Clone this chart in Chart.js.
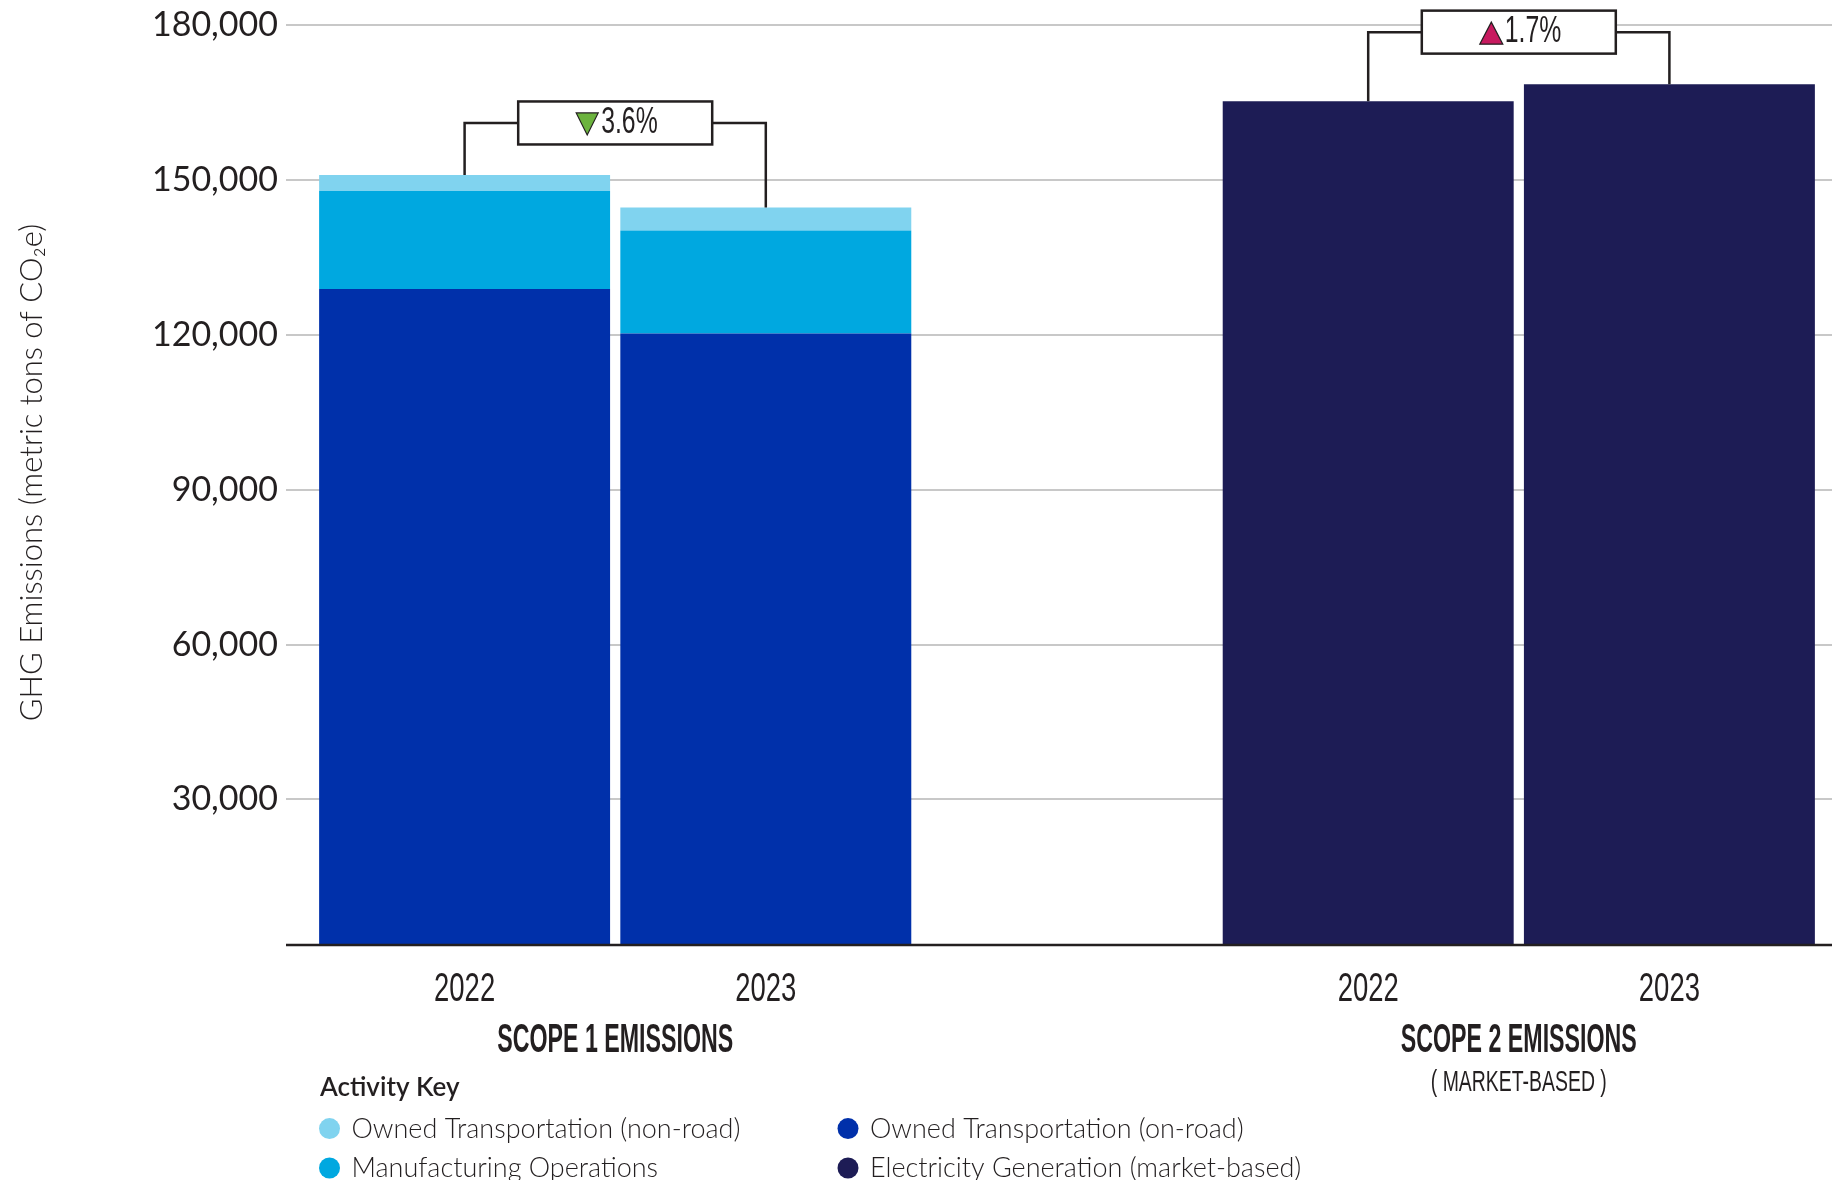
<!DOCTYPE html>
<html>
<head>
    <meta charset="UTF-8">
    <title>GHG Emissions</title>
    <script src="https://cdn.jsdelivr.net/npm/chart.js"></script>
    <style>
        body { margin: 0; background: #fff; }
        #wrap { width: 1832px; height: 1180px; position: relative; }
    </style>
</head>
<body>
    <div id="wrap"><canvas id="emissionsChart"></canvas></div>
    <script>
        // chart data
        var yearLabels = ['2022', '2023', '', '2022', '2023'];
        var groupNames = ['SCOPE 1 EMISSIONS', 'SCOPE 2 EMISSIONS'];
        var groupNotes = ['', '( MARKET-BASED )'];
        var groupMembers = [[0, 1], [3, 4]];
        var changeLabels = ['3.6%', '1.7%'];
        var changeDirections = ['down', 'up'];
        var yTicks = [30000, 60000, 90000, 120000, 150000, 180000];

        var seriesNames = ['Owned Transportation (on-road)', 'Manufacturing Operations',
                           'Owned Transportation (non-road)', 'Electricity Generation (market-based)'];
        var onRoad = [128900, 120300, null, null, null];
        var manufacturing = [19000, 19950, null, null, null];
        var nonRoad = [3100, 4460, null, null, null];
        var electricity = [null, null, null, 165300, 168600];

        var seriesColors = ['#0030aa', '#00a8e0', '#80d3ef', '#1d1c55'];
        var legendOrder = [2, 0, 1, 3];

        var ink = '#231f20';

        // pick a condensed face for the headline-style labels
        function hasFont(name) {
            var c = document.createElement('canvas').getContext('2d');
            c.font = '40px monospace';
            var w1 = c.measureText('SCOPE 2022 abc').width;
            c.font = "40px '" + name + "', monospace";
            return c.measureText('SCOPE 2022 abc').width !== w1;
        }
        var narrow = hasFont('Liberation Sans Narrow');
        var condFamily = narrow ? "'Liberation Sans Narrow'" : "'Liberation Sans'";
        var condReg = narrow ? 0.82 : 0.67;
        var condBold = narrow ? 0.70 : 0.58;

        function drawCond(ctx, text, x, baseline, size, weight, sx, align) {
            ctx.save();
            ctx.translate(x, baseline);
            ctx.scale(sx, 1);
            ctx.font = weight + ' ' + size + 'px ' + condFamily;
            ctx.textAlign = align || 'center';
            ctx.textBaseline = 'alphabetic';
            ctx.fillStyle = ink;
            ctx.fillText(text, 0, 0);
            ctx.restore();
        }

        function total(chart, i) {
            var s = 0;
            chart.data.datasets.forEach(function (ds) {
                if (ds.data[i] != null) s += ds.data[i];
            });
            return s;
        }

        var extras = {
            id: 'extras',
            beforeDatasetsDraw: function (chart) {
                var ctx = chart.ctx, area = chart.chartArea, y = chart.scales.y;
                ctx.save();
                ctx.strokeStyle = '#c8c8c8';
                ctx.lineWidth = 2;
                y.ticks.forEach(function (t) {
                    var py = Math.round(y.getPixelForValue(t.value));
                    ctx.beginPath();
                    ctx.moveTo(area.left - 28, py);
                    ctx.lineTo(chart.width, py);
                    ctx.stroke();
                });
                ctx.restore();
            },
            afterDatasetsDraw: function (chart) {
                var ctx = chart.ctx, area = chart.chartArea;
                var x = chart.scales.x, y = chart.scales.y;
                ctx.save();

                // baseline
                ctx.strokeStyle = ink;
                ctx.lineWidth = 2.5;
                ctx.beginPath();
                ctx.moveTo(area.left - 28, area.bottom);
                ctx.lineTo(chart.width, area.bottom);
                ctx.stroke();

                // year labels
                yearLabels.forEach(function (lab, i) {
                    if (lab) drawCond(ctx, lab, x.getPixelForValue(i), 1001, 41, 'normal', condReg);
                });

                groupMembers.forEach(function (m, g) {
                    var xa = x.getPixelForValue(m[0]), xb = x.getPixelForValue(m[1]);
                    var ya = y.getPixelForValue(total(chart, m[0]));
                    var yb = y.getPixelForValue(total(chart, m[1]));
                    var yc = Math.min(ya, yb) - 52;
                    var cx = (xa + xb) / 2;

                    // bracket
                    ctx.strokeStyle = ink;
                    ctx.lineWidth = 2.5;
                    ctx.beginPath();
                    ctx.moveTo(xa, ya);
                    ctx.lineTo(xa, yc);
                    ctx.lineTo(xb, yc);
                    ctx.lineTo(xb, yb);
                    ctx.stroke();

                    // change box
                    var bw = 194, bh = 43;
                    ctx.fillStyle = '#fff';
                    ctx.fillRect(cx - bw / 2, yc - bh / 2, bw, bh);
                    ctx.strokeRect(cx - bw / 2, yc - bh / 2, bw, bh);

                    var tx = cx - 39;
                    ctx.beginPath();
                    if (changeDirections[g] === 'down') {
                        ctx.moveTo(tx, yc - 10);
                        ctx.lineTo(tx + 22, yc - 10);
                        ctx.lineTo(tx + 11, yc + 12);
                        ctx.fillStyle = '#6cb33e';
                    } else {
                        ctx.moveTo(tx, yc + 12);
                        ctx.lineTo(tx + 23, yc + 12);
                        ctx.lineTo(tx + 11.5, yc - 10);
                        ctx.fillStyle = '#c71a5f';
                    }
                    ctx.closePath();
                    ctx.fill();
                    ctx.lineWidth = 1.2;
                    ctx.stroke();
                    drawCond(ctx, changeLabels[g], tx + 25, yc + 10, 37, 'normal', condReg, 'left');

                    // group titles
                    drawCond(ctx, groupNames[g], cx, 1052, 40, 'bold', condBold);
                    if (groupNotes[g]) drawCond(ctx, groupNotes[g], cx, 1091, 29, 'normal', condReg);
                });

                // legend
                ctx.fillStyle = ink;
                ctx.font = '600 26px Lato';
                ctx.textAlign = 'left';
                ctx.textBaseline = 'alphabetic';
                ctx.fillText('Activity Key', 320, 1096);

                var colX = [329.5, 848], rowY = [1128.6, 1168];
                legendOrder.forEach(function (di, k) {
                    var ds = chart.data.datasets[di];
                    var cx = colX[k % 2], cy = rowY[Math.floor(k / 2)];
                    ctx.beginPath();
                    ctx.arc(cx, cy, 10.5, 0, Math.PI * 2);
                    ctx.fillStyle = ds.backgroundColor;
                    ctx.fill();
                    ctx.fillStyle = ink;
                    ctx.font = '300 27px Lato';
                    ctx.fillText(ds.label, cx + 22, cy + 9);
                });

                ctx.restore();
            }
        };

        var ctx = document.getElementById('emissionsChart').getContext('2d');
        var emissionsChart = new Chart(ctx, {
            type: 'bar',
            data: {
                labels: yearLabels,
                datasets: [
                    { label: seriesNames[0], data: onRoad, backgroundColor: seriesColors[0] },
                    { label: seriesNames[1], data: manufacturing, backgroundColor: seriesColors[1] },
                    { label: seriesNames[2], data: nonRoad, backgroundColor: seriesColors[2] },
                    { label: seriesNames[3], data: electricity, backgroundColor: seriesColors[3] }
                ]
            },
            options: {
                responsive: true,
                maintainAspectRatio: false,
                animation: false,
                datasets: {
                    bar: { categoryPercentage: 1, barPercentage: 0.966, borderWidth: 0 }
                },
                layout: {
                    autoPadding: false,
                    padding: { left: 0, right: 12, top: 0, bottom: 235 }
                },
                plugins: {
                    legend: { display: false },
                    tooltip: { enabled: false }
                },
                scales: {
                    x: {
                        stacked: true,
                        display: false
                    },
                    y: {
                        stacked: true,
                        min: 1800,
                        max: 184900,
                        grid: { display: false, drawTicks: false },
                        border: { display: false },
                        afterBuildTicks: function (scale) {
                            scale.ticks = yTicks.map(function (v) { return { value: v }; });
                        },
                        afterFit: function (scale) {
                            scale.width = 314;
                            scale.paddingTop = 0;
                            scale.paddingBottom = 0;
                        },
                        ticks: {
                            padding: 36,
                            color: ink,
                            font: { family: 'Lato', size: 34, weight: '400' },
                            callback: function (v) { return v.toLocaleString('en-US'); }
                        },
                        title: {
                            display: true,
                            text: 'GHG Emissions (metric tons of CO\u2082e)',
                            color: ink,
                            font: { family: 'Lato', size: 31, weight: '300' },
                            padding: { top: 13, bottom: 0 }
                        }
                    }
                }
            },
            plugins: [extras]
        });
    </script>
</body>
</html>
